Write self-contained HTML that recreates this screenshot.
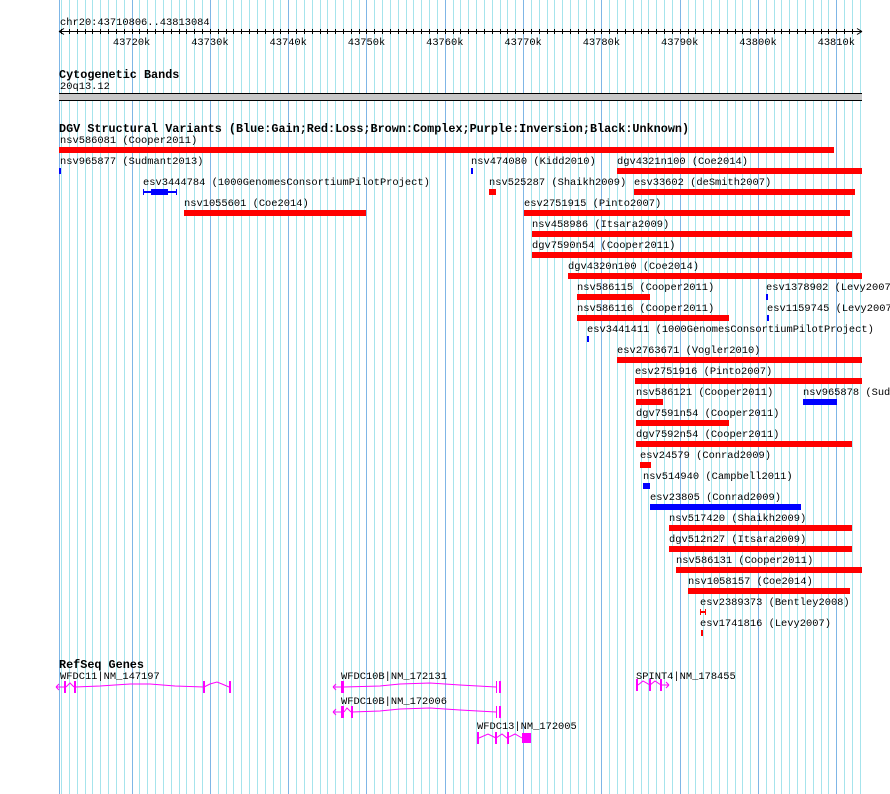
<!DOCTYPE html>
<html><head><meta charset="utf-8"><style>
html,body{margin:0;padding:0;background:#fff;}
svg{display:block;}
text{font-family:"Liberation Mono",monospace;font-size:10.4px;fill:#000;dominant-baseline:central;transform:translate(0px,2px);}
.b{font-weight:bold;font-size:11.8px;}
</style></head><body>
<svg width="890" height="794" viewBox="0 0 890 794" xmlns="http://www.w3.org/2000/svg" shape-rendering="crispEdges">
<rect x="0" y="0" width="890" height="794" fill="#fff"/>
<path stroke="#a6e4ec" stroke-width="1" fill="none" d="M61.5 0v794M69.5 0v794M77.5 0v794M85.5 0v794M92.5 0v794M100.5 0v794M108.5 0v794M116.5 0v794M124.5 0v794
M139.5 0v794M147.5 0v794M155.5 0v794M163.5 0v794M171.5 0v794M179.5 0v794M186.5 0v794M194.5 0v794M202.5 0v794
M218.5 0v794M226.5 0v794M233.5 0v794M241.5 0v794M249.5 0v794M257.5 0v794M265.5 0v794M273.5 0v794M280.5 0v794
M296.5 0v794M304.5 0v794M312.5 0v794M320.5 0v794M327.5 0v794M335.5 0v794M343.5 0v794M351.5 0v794M359.5 0v794
M374.5 0v794M382.5 0v794M390.5 0v794M398.5 0v794M406.5 0v794M413.5 0v794M421.5 0v794M429.5 0v794M437.5 0v794
M453.5 0v794M460.5 0v794M468.5 0v794M476.5 0v794M484.5 0v794M492.5 0v794M500.5 0v794M507.5 0v794M515.5 0v794
M531.5 0v794M539.5 0v794M547.5 0v794M554.5 0v794M562.5 0v794M570.5 0v794M578.5 0v794M586.5 0v794M594.5 0v794
M609.5 0v794M617.5 0v794M625.5 0v794M633.5 0v794M641.5 0v794M648.5 0v794M656.5 0v794M664.5 0v794M672.5 0v794
M688.5 0v794M695.5 0v794M703.5 0v794M711.5 0v794M719.5 0v794M727.5 0v794M735.5 0v794M742.5 0v794M750.5 0v794
M766.5 0v794M774.5 0v794M781.5 0v794M789.5 0v794M797.5 0v794M805.5 0v794M813.5 0v794M821.5 0v794M828.5 0v794
M844.5 0v794M852.5 0v794M860.5 0v794"/>
<path stroke="#7fb6e6" stroke-width="1" fill="none" d="M59.5 0v794M132.5 0v794M210.5 0v794M288.5 0v794M366.5 0v794M445.5 0v794M523.5 0v794M601.5 0v794M680.5 0v794M758.5 0v794M836.5 0v794"/>

<!-- ruler -->
<text x="60" y="21">chr20:43710806..43813084</text>
<rect x="59" y="31" width="803" height="1" fill="#000"/>
<path stroke="#000" stroke-width="1" fill="none" d="M61.5 29v5M69.5 29v5M77.5 29v5M85.5 29v5M92.5 29v5M100.5 29v5M108.5 29v5M116.5 29v5M124.5 29v5M132.5 29v5
M139.5 29v5M147.5 29v5M155.5 29v5M163.5 29v5M171.5 29v5M179.5 29v5M186.5 29v5M194.5 29v5M202.5 29v5M210.5 29v5
M218.5 29v5M226.5 29v5M233.5 29v5M241.5 29v5M249.5 29v5M257.5 29v5M265.5 29v5M273.5 29v5M280.5 29v5M288.5 29v5
M296.5 29v5M304.5 29v5M312.5 29v5M320.5 29v5M327.5 29v5M335.5 29v5M343.5 29v5M351.5 29v5M359.5 29v5M366.5 29v5
M374.5 29v5M382.5 29v5M390.5 29v5M398.5 29v5M406.5 29v5M413.5 29v5M421.5 29v5M429.5 29v5M437.5 29v5M445.5 29v5
M453.5 29v5M460.5 29v5M468.5 29v5M476.5 29v5M484.5 29v5M492.5 29v5M500.5 29v5M507.5 29v5M515.5 29v5M523.5 29v5
M531.5 29v5M539.5 29v5M547.5 29v5M554.5 29v5M562.5 29v5M570.5 29v5M578.5 29v5M586.5 29v5M594.5 29v5M601.5 29v5
M609.5 29v5M617.5 29v5M625.5 29v5M633.5 29v5M641.5 29v5M648.5 29v5M656.5 29v5M664.5 29v5M672.5 29v5M680.5 29v5
M688.5 29v5M695.5 29v5M703.5 29v5M711.5 29v5M719.5 29v5M727.5 29v5M735.5 29v5M742.5 29v5M750.5 29v5M758.5 29v5
M766.5 29v5M774.5 29v5M781.5 29v5M789.5 29v5M797.5 29v5M805.5 29v5M813.5 29v5M821.5 29v5M828.5 29v5M836.5 29v5
M844.5 29v5M852.5 29v5"/>
<path d="M59 31.5 L64 28.5 M59 31.5 L64 34.5 M862 31.5 L857 28.5 M862 31.5 L857 34.5" stroke="#000" fill="none" shape-rendering="auto"/>
<g text-anchor="middle">
<text x="131.6" y="41">43720k</text><text x="209.9" y="41">43730k</text><text x="288.2" y="41">43740k</text>
<text x="366.5" y="41">43750k</text><text x="444.8" y="41">43760k</text><text x="523.1" y="41">43770k</text>
<text x="601.4" y="41">43780k</text><text x="679.7" y="41">43790k</text><text x="758" y="41">43800k</text>
<text x="836.3" y="41">43810k</text>
</g>

<!-- cyto -->
<text class="b" x="59" y="73">Cytogenetic Bands</text>
<text x="60" y="85">20q13.12</text>
<rect x="59" y="93" width="803" height="1" fill="#000"/>
<rect x="59" y="94" width="803" height="6" fill="#c8c8c8"/>
<rect x="59" y="100" width="803" height="1" fill="#000"/>

<!-- DGV -->
<text class="b" x="59" y="127">DGV Structural Variants (Blue:Gain;Red:Loss;Brown:Complex;Purple:Inversion;Black:Unknown)</text>
<g fill="#ff0000">
<text x="60" y="139">nsv586081 (Cooper2011)</text><rect x="59" y="147" width="775" height="6"/>
<text x="60" y="160">nsv965877 (Sudmant2013)</text>
<text x="471" y="160">nsv474080 (Kidd2010)</text>
<text x="617" y="160">dgv4321n100 (Coe2014)</text><rect x="617" y="168" width="245" height="6"/>
<text x="143" y="181">esv3444784 (1000GenomesConsortiumPilotProject)</text>
<text x="489" y="181">nsv525287 (Shaikh2009)</text><rect x="489" y="189" width="7" height="6"/>
<text x="634" y="181">esv33602 (deSmith2007)</text><rect x="634" y="189" width="221" height="6"/>
<text x="184" y="202">nsv1055601 (Coe2014)</text><rect x="184" y="210" width="182" height="6"/>
<text x="524" y="202">esv2751915 (Pinto2007)</text><rect x="524" y="210" width="326" height="6"/>
<text x="532" y="223">nsv458986 (Itsara2009)</text><rect x="532" y="231" width="320" height="6"/>
<text x="532" y="244">dgv7590n54 (Cooper2011)</text><rect x="532" y="252" width="320" height="6"/>
<text x="568" y="265">dgv4320n100 (Coe2014)</text><rect x="568" y="273" width="294" height="6"/>
<text x="577" y="286">nsv586115 (Cooper2011)</text><rect x="577" y="294" width="73" height="6"/>
<text x="766" y="286">esv1378902 (Levy2007)</text>
<text x="577" y="307">nsv586116 (Cooper2011)</text><rect x="577" y="315" width="152" height="6"/>
<text x="767" y="307">esv1159745 (Levy2007)</text>
<text x="587" y="328">esv3441411 (1000GenomesConsortiumPilotProject)</text>
<text x="617" y="349">esv2763671 (Vogler2010)</text><rect x="617" y="357" width="245" height="6"/>
<text x="635" y="370">esv2751916 (Pinto2007)</text><rect x="635" y="378" width="227" height="6"/>
<text x="636" y="391">nsv586121 (Cooper2011)</text><rect x="636" y="399" width="27" height="6"/>
<text x="803" y="391">nsv965878 (Sudmant2013)</text>
<text x="636" y="412">dgv7591n54 (Cooper2011)</text><rect x="636" y="420" width="93" height="6"/>
<text x="636" y="433">dgv7592n54 (Cooper2011)</text><rect x="636" y="441" width="216" height="6"/>
<text x="640" y="454">esv24579 (Conrad2009)</text><rect x="640" y="462" width="11" height="6"/>
<text x="643" y="475">nsv514940 (Campbell2011)</text>
<text x="650" y="496">esv23805 (Conrad2009)</text>
<text x="669" y="517">nsv517420 (Shaikh2009)</text><rect x="669" y="525" width="183" height="6"/>
<text x="669" y="538">dgv512n27 (Itsara2009)</text><rect x="669" y="546" width="183" height="6"/>
<text x="676" y="559">nsv586131 (Cooper2011)</text><rect x="676" y="567" width="186" height="6"/>
<text x="688" y="580">nsv1058157 (Coe2014)</text><rect x="688" y="588" width="162" height="6"/>
<text x="700" y="601">esv2389373 (Bentley2008)</text>
<rect x="700" y="609" width="1" height="6"/><rect x="705" y="609" width="1" height="6"/><rect x="700" y="611" width="6" height="2"/>
<text x="700" y="622">esv1741816 (Levy2007)</text><rect x="701" y="630" width="2" height="6"/>
</g>
<g fill="#0000ff">
<rect x="59" y="168" width="2" height="6"/>
<rect x="471" y="168" width="2" height="6"/>
<rect x="143" y="189" width="1" height="6"/><rect x="176" y="189" width="1" height="6"/><rect x="143" y="191" width="34" height="2"/>
<rect x="151" y="189" width="17" height="6"/>
<rect x="766" y="294" width="2" height="6"/>
<rect x="767" y="315" width="2" height="6"/>
<rect x="587" y="336" width="2" height="6"/>
<rect x="803" y="399" width="34" height="6"/>
<rect x="643" y="483" width="7" height="6"/>
<rect x="650" y="504" width="151" height="6"/>
</g>

<!-- RefSeq -->
<text class="b" x="59" y="663">RefSeq Genes</text>
<text x="60" y="675">WFDC11|NM_147197</text>
<text x="341" y="675">WFDC10B|NM_172131</text>
<text x="341" y="700">WFDC10B|NM_172006</text>
<text x="477" y="725">WFDC13|NM_172005</text>
<text x="636" y="675">SPINT4|NM_178455</text>
<g stroke="#ff00ff" fill="none" stroke-width="1" shape-rendering="auto">
<path d="M56 687 L64 687 M56 687 L59 684 M56 687 L59 690"/>
<path d="M66 687 L70 683 L74 687"/>
<path d="M75 687 L100 686 L130 684 L150 684 L175 686 L204 687"/>
<path d="M204 687 L210 684 L217 682 L222 684 L229 687"/>
<path d="M333 687 L341 687 M333 687 L336 684 M333 687 L336 690"/>
<path d="M344 687 L380 686 L400 684 L430 683 L460 685 L496 687"/>
<path d="M333 712 L341 712 M333 712 L336 709 M333 712 L336 715"/>
<path d="M344 712 L347 708 L351 712"/>
<path d="M352 712 L380 711 L400 709 L430 708 L460 710 L496 712"/>
<path d="M479 738 L488 734 L496 738 L502 734 L507 738 L515 734 L522 738"/>
<path d="M638 685 L643 681 L650 685 L655 681 L661 685 L669 685 M669 685 L666 682 M669 685 L666 688"/>
</g>
<g fill="#ff00ff">
<rect x="64" y="681" width="2" height="12"/><rect x="74" y="681" width="2" height="12"/>
<rect x="203" y="681" width="2" height="12"/><rect x="229" y="681" width="2" height="12"/>
<rect x="341" y="681" width="3" height="12"/><rect x="496" y="681" width="1" height="12"/><rect x="499" y="681" width="2" height="12"/>
<rect x="341" y="706" width="3" height="12"/><rect x="351" y="706" width="2" height="12"/><rect x="496" y="706" width="1" height="12"/><rect x="499" y="706" width="2" height="12"/>
<rect x="477" y="732" width="2" height="12"/><rect x="495" y="732" width="2" height="12"/><rect x="507" y="732" width="2" height="12"/><rect x="522" y="733" width="9" height="10"/>
<rect x="636" y="679" width="2" height="12"/><rect x="649" y="679" width="2" height="12"/><rect x="660" y="679" width="2" height="12"/>
</g>
</svg>
</body></html>
